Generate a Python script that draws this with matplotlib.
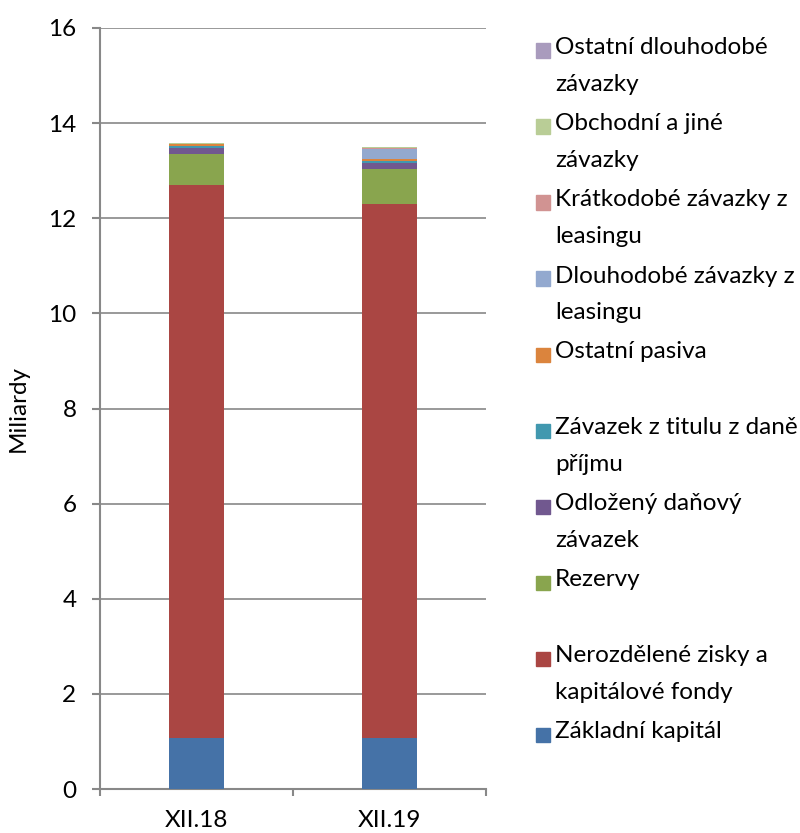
import matplotlib
matplotlib.use("Agg")
import matplotlib.pyplot as plt
from matplotlib.patches import Rectangle
import numpy as np

plt.rcParams['font.family'] = ['Lato', 'DejaVu Sans']

categories = ["XII.18", "XII.19"]
series_names = [
    "Základní kapitál",
    "Nerozdělené zisky a\nkapitálové fondy",
    "Rezervy",
    "Odložený daňový\nzávazek",
    "Závazek z titulu z daně\npříjmu",
    "Ostatní pasiva",
    "Dlouhodobé závazky z\nleasingu",
    "Krátkodobé závazky z\nleasingu",
    "Obchodní a jiné\nzávazky",
    "Ostatní dlouhodobé\nzávazky",
]
colors = ["#4572A7", "#AA4643", "#89A54E", "#71588F", "#4198AF",
          "#DB843D", "#93A9CF", "#D19392", "#B9CD96", "#A99BBD"]

zakladni = [1.07, 1.07]
nerozdelene = [11.63, 11.23]
rezervy = [0.65, 0.73]
odlozeny = [0.13, 0.14]
zavazek_dan = [0.04, 0.03]
ostatni_pasiva = [0.04, 0.04]
dlouhodobe_leasing = [0.0, 0.22]
kratkodobe_leasing = [0.0, 0.02]
obchodni = [0.02, 0.01]
ostatni_dlouhodobe = [0.01, 0.01]

values = [zakladni, nerozdelene, rezervy, odlozeny, zavazek_dan,
          ostatni_pasiva, dlouhodobe_leasing, kratkodobe_leasing,
          obchodni, ostatni_dlouhodobe]

FS = 17.5
fig = plt.figure(figsize=(8, 8.33), dpi=100)
ax = fig.add_axes([0.125, 0.0528, 0.4825, 0.9136])

x = np.arange(len(categories))
bottom = np.zeros(len(categories))
for vals, c in zip(values, colors):
    ax.bar(x, vals, width=0.28, bottom=bottom, color=c, zorder=3)
    bottom += np.array(vals)

ax.set_xlim(-0.5, 1.5)
ax.set_ylim(0, 16)
ax.set_yticks(np.arange(0, 17, 2))
ax.set_xticks(x)
ax.set_xticklabels(categories)
ax.set_xticks([-0.5, 0.5, 1.5], minor=True)
ax.tick_params(axis='x', which='major', length=0, labelsize=FS, pad=15)
ax.tick_params(axis='x', which='minor', length=5, color='#888888', width=1.5)
ax.tick_params(axis='y', length=6, color='#888888', width=1.5, labelsize=FS, pad=11)
ax.yaxis.grid(True, color='#888888', linewidth=1.2, zorder=0)
for s in ['top', 'right']:
    ax.spines[s].set_visible(False)
for s in ['left', 'bottom']:
    ax.spines[s].set_color('#888888')
    ax.spines[s].set_linewidth(1.5)
ax.set_ylabel("Miliardy", fontsize=FS, labelpad=14)

# Legend (reverse order), manually positioned
W, H = 800, 833
top_px = 50.5
step_px = 76
for i, (name, c) in enumerate(zip(reversed(series_names), reversed(colors))):
    ypx = top_px + i * step_px
    fig.patches.append(Rectangle((536 / W, 1 - (ypx + 7) / H), 14 / W, 14 / H,
                                 transform=fig.transFigure, color=c))
    fig.text(555 / W, 1 - (ypx - 13) / H, name, fontsize=FS, va='top', ha='left',
             linespacing=1.9)

fig.savefig("out.png", dpi=100)
